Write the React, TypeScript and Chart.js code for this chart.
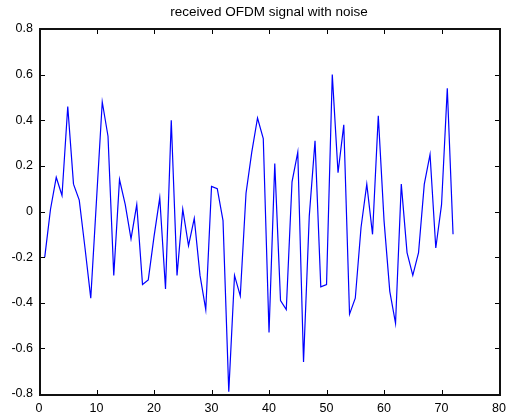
import React, { useEffect, useRef } from "react";
import { Chart, registerables } from "chart.js";

Chart.register(...registerables);

const titleText = "received OFDM signal with noise";

const sampleIndex = [
  1, 2, 3, 4, 5, 6, 7, 8, 9, 10, 11, 12, 13, 14, 15, 16, 17, 18, 19, 20, 21, 22, 23, 24,
  25, 26, 27, 28, 29, 30, 31, 32, 33, 34, 35, 36, 37, 38, 39, 40, 41, 42, 43, 44, 45, 46, 47, 48,
  49, 50, 51, 52, 53, 54, 55, 56, 57, 58, 59, 60, 61, 62, 63, 64, 65, 66, 67, 68, 69, 70, 71, 72,
];

const signalValues = [
  -0.2, 0.01, 0.15, 0.07, 0.46, 0.12, 0.05, -0.16, -0.38, 0.05, 0.48, 0.33,
  -0.28, 0.14, 0.03, -0.12, 0.03, -0.32, -0.3, -0.11, 0.06, -0.34, 0.4, -0.28,
  0.01, -0.15, -0.03, -0.28, -0.43, 0.11, 0.1, -0.04, -0.79, -0.28, -0.37, 0.08,
  0.26, 0.41, 0.32, -0.53, 0.21, -0.39, -0.43, 0.13, 0.26, -0.66, -0.02, 0.31,
  -0.33, -0.32, 0.6, 0.17, 0.38, -0.45, -0.38, -0.07, 0.12, -0.1, 0.42, -0.04,
  -0.35, -0.49, 0.12, -0.18, -0.28, -0.18, 0.12, 0.25, -0.16, 0.03, 0.54, -0.1,
];

const xTicks = [0, 10, 20, 30, 40, 50, 60, 70, 80];
const yTicks = [-0.8, -0.6, -0.4, -0.2, 0, 0.2, 0.4, 0.6, 0.8];

const FONT = "'Liberation Sans', Arial, sans-serif";

const matlabAxesPlugin = {
  id: "matlabAxes",
  afterDraw(chart: any) {
    const { ctx, chartArea } = chart;
    const { left, right, top, bottom } = chartArea;
    const xs = chart.scales.x;
    const ys = chart.scales.y;
    const tl = 5;
    ctx.save();
    ctx.strokeStyle = "#000";
    ctx.lineWidth = 1;
    ctx.beginPath();
    const L = Math.round(left) + 1;
    const R = Math.round(right) + 1;
    const T = Math.round(top);
    const B = Math.round(bottom) + 1;
    xTicks.forEach((v) => {
      const px = Math.round(xs.getPixelForValue(v)) + 0.5;
      ctx.moveTo(px, B);
      ctx.lineTo(px, B - tl);
      ctx.moveTo(px, T);
      ctx.lineTo(px, T + tl);
    });
    yTicks.forEach((v) => {
      const py = Math.round(ys.getPixelForValue(v)) + 0.5;
      ctx.moveTo(L, py);
      ctx.lineTo(L + tl, py);
      ctx.moveTo(R, py);
      ctx.lineTo(R - tl, py);
    });
    ctx.stroke();
    ctx.lineWidth = 2;
    ctx.strokeStyle = "#111";
    ctx.strokeRect(L, T, R - L, B - T);
    ctx.fillStyle = "#000";
    ctx.font = `13.5px ${FONT}`;
    ctx.textAlign = "center";
    ctx.textBaseline = "middle";
    ctx.fillText(titleText, (left + right) / 2, 12.5);
    ctx.restore();
  },
};

export default function App() {
  const ref = useRef<HTMLCanvasElement>(null);
  useEffect(() => {
    document.body.style.margin = "0";
    const canvas = ref.current;
    if (!canvas) return;
    const chart = new Chart(canvas, {
      type: "line",
      data: {
        datasets: [
          {
            data: sampleIndex.map((x, i) => ({ x, y: signalValues[i] })),
            borderColor: "#0000ff",
            borderWidth: 1.2,
            pointRadius: 0,
            tension: 0,
            fill: false,
          },
        ],
      },
      options: {
        responsive: false,
        animation: false,
        events: [],
        layout: { padding: { left: 0, top: 29, right: 10, bottom: 0 } },
        plugins: {
          legend: { display: false },
          title: { display: false },
          tooltip: { enabled: false },
        },
        scales: {
          x: {
            type: "linear",
            min: 0,
            max: 80,
            afterBuildTicks: (s: any) => {
              s.ticks = xTicks.map((v) => ({ value: v }));
            },
            afterFit: (s: any) => {
              s.height = 25;
            },
            grid: { display: false, drawTicks: false },
            border: { display: false },
            ticks: {
              color: "#000",
              padding: 7,
              maxRotation: 0,
              font: { family: FONT, size: 12.5 },
              callback: (v: any) => String(v),
            },
          },
          y: {
            type: "linear",
            min: -0.8,
            max: 0.8,
            afterBuildTicks: (s: any) => {
              s.ticks = yTicks.map((v) => ({ value: v }));
            },
            afterFit: (s: any) => {
              s.width = 39;
            },
            grid: { display: false, drawTicks: false },
            border: { display: false },
            ticks: {
              color: "#000",
              padding: 6,
              font: { family: FONT, size: 12.5 },
              callback: (v: any) => String(Number(Number(v).toFixed(1))),
            },
          },
        },
      },
      plugins: [matlabAxesPlugin],
    });
    return () => chart.destroy();
  }, []);
  return (
    <div style={{ width: 513, height: 419, background: "#fff" }}>
      <canvas ref={ref} width={513} height={419} style={{ display: "block" }} />
    </div>
  );
}
